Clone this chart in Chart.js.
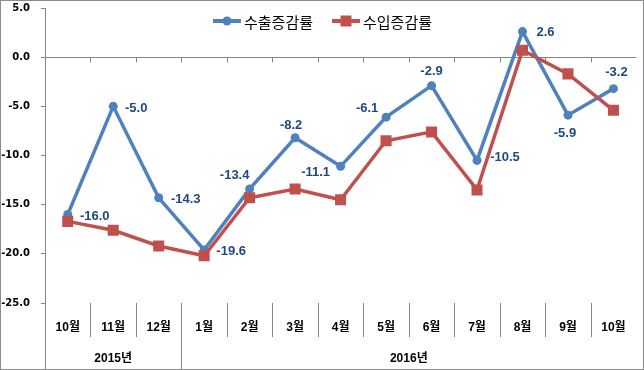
<!DOCTYPE html>
<html>
<head>
<meta charset="utf-8">
<script src="https://cdn.jsdelivr.net/npm/chart.js@4.4.1/dist/chart.umd.min.js"></script>
<style>
  html, body { margin: 0; padding: 0; background: #fff; }
  #wrap { width: 644px; height: 370px; }
</style>
</head>
<body>
<div id="wrap"><canvas id="chart" width="644" height="370"></canvas></div>
<script>
// data
const months = ["10월", "11월", "12월", "1월", "2월", "3월", "4월", "5월", "6월", "7월", "8월", "9월", "10월"];
const years = ["2015년", "2016년"];
const monthsPerYear = [3, 10];
const exportRate = [-16.0, -5.0, -14.3, -19.6, -13.4, -8.2, -11.1, -6.1, -2.9, -10.5, 2.6, -5.9, -3.2];
const importRate = [-16.7, -17.6, -19.2, -20.2, -14.3, -13.4, -14.5, -8.5, -7.6, -13.5, 0.7, -1.7, -5.4];
const yTicks = [5, 0, -5, -10, -15, -20, -25];

// label offsets from each export point (styling only)
const labelOffset = [[27, 2], [23, 2], [27, 2], [27, 2], [-15, -14], [-4, -12], [-25, 6],
                     [-19, -9], [0, -14], [28, -3], [23, 1], [-3, 18], [3, -16]];

const BLUE = "#4F81BD";
const RED = "#C0504D";
const AXIS = "#868686";
const TICK_FONT = "bold 12px 'Liberation Sans', 'Noto Sans CJK KR', sans-serif";

const decorations = {
    id: "decorations",
    beforeDatasetsDraw(chart) {
        const ctx = chart.ctx;
        const x = chart.scales.x;
        const y = chart.scales.y;
        const area = chart.chartArea;
        const half = (x.getPixelForValue(1) - x.getPixelForValue(0)) / 2;
        const y0 = Math.round(y.getPixelForValue(0)) + 0.5;
        ctx.save();
        ctx.strokeStyle = AXIS;
        ctx.lineWidth = 1;
        ctx.beginPath();
        // y axis down to the bottom edge
        ctx.moveTo(Math.round(area.left) + 0.5, area.bottom);
        ctx.lineTo(Math.round(area.left) + 0.5, chart.height);
        // tick marks on zero line + category separators
        let yearEnds = [];
        let acc = 0;
        monthsPerYear.forEach(n => { acc += n; yearEnds.push(acc); });
        for (let i = 1; i < months.length; i++) {
            const bx = Math.round(x.getPixelForValue(i) - half) + 0.5;
            ctx.moveTo(bx, y0);
            ctx.lineTo(bx, y0 + 5);
            ctx.moveTo(bx, area.bottom);
            ctx.lineTo(bx, yearEnds.includes(i) ? chart.height : area.bottom + 34);
        }
        ctx.stroke();

        // year labels
        ctx.fillStyle = "#000";
        ctx.font = TICK_FONT;
        ctx.textAlign = "center";
        ctx.textBaseline = "middle";
        let start = 0;
        years.forEach((label, k) => {
            const end = start + monthsPerYear[k] - 1;
            const cx = (x.getPixelForValue(start) + x.getPixelForValue(end)) / 2;
            ctx.fillText(label, cx, area.bottom + 56);
            start = end + 1;
        });
        ctx.restore();
    },
    afterDatasetsDraw(chart) {
        const ctx = chart.ctx;
        ctx.save();
        // data labels for export series
        const pts = chart.getDatasetMeta(0).data;
        ctx.font = "bold 13px 'Liberation Sans', sans-serif";
        ctx.fillStyle = "#1F497D";
        ctx.textAlign = "center";
        ctx.textBaseline = "middle";
        pts.forEach((p, i) => {
            ctx.fillText(exportRate[i].toFixed(1), p.x + labelOffset[i][0], p.y + labelOffset[i][1]);
        });

        // legend
        const legendX = [213, 332];
        const ly = 21;
        ctx.font = "15px 'Noto Sans CJK KR', sans-serif";
        ctx.textAlign = "left";
        chart.data.datasets.forEach((ds, i) => {
            const lx = legendX[i];
            ctx.strokeStyle = ds.borderColor;
            ctx.lineWidth = 4;
            ctx.beginPath();
            ctx.moveTo(lx, ly);
            ctx.lineTo(lx + 28, ly);
            ctx.stroke();
            ctx.fillStyle = ds.borderColor;
            if (ds.pointStyle === "rect") {
                ctx.fillRect(lx + 14 - 5.5, ly - 5.5, 11, 11);
            } else {
                ctx.beginPath();
                ctx.arc(lx + 14, ly, 4.5, 0, Math.PI * 2);
                ctx.fill();
            }
            ctx.fillStyle = "#000";
            ctx.fillText(ds.label, lx + 31, ly + 1);
        });

        // outer frame
        ctx.strokeStyle = "#8C8C8C";
        ctx.lineWidth = 1;
        ctx.strokeRect(0.5, 0.5, chart.width - 1, chart.height - 1);
        ctx.restore();
    }
};

new Chart(document.getElementById("chart"), {
    type: "line",
    data: {
        labels: months,
        datasets: [{
            label: "수출증감률",
            data: exportRate,
            borderColor: BLUE,
            backgroundColor: BLUE,
            borderWidth: 3.5,
            pointStyle: "circle",
            pointRadius: 4.5,
            pointBorderWidth: 0,
            tension: 0,
            order: 2
        }, {
            label: "수입증감률",
            data: importRate,
            borderColor: RED,
            backgroundColor: RED,
            borderWidth: 3.5,
            pointStyle: "rect",
            pointRadius: 7.8,
            pointBorderWidth: 0,
            tension: 0,
            order: 1
        }]
    },
    options: {
        responsive: false,
        animation: false,
        devicePixelRatio: 1,
        layout: { padding: { top: 8, right: 1, bottom: 0, left: 0 } },
        plugins: {
            legend: { display: false },
            tooltip: { enabled: false }
        },
        scales: {
            x: {
                type: "category",
                offset: true,
                grid: { display: false },
                border: { display: false },
                ticks: {
                    font: { family: "'Liberation Sans', 'Noto Sans CJK KR', sans-serif", size: 12, weight: "bold" },
                    color: "#000",
                    padding: 9,
                    maxRotation: 0,
                    autoSkip: false
                },
                afterFit(scale) {
                    scale.height = 67;
                    scale.paddingLeft = 0;
                    scale.paddingRight = 0;
                }
            },
            y: {
                min: -25,
                max: 5,
                afterBuildTicks(scale) { scale.ticks = yTicks.map(v => ({ value: v })); },
                grid: {
                    color: c => (c.tick && c.tick.value === 0 ? AXIS : "rgba(0,0,0,0)"),
                    tickColor: AXIS,
                    tickLength: 4,
                    lineWidth: 1
                },
                border: { display: true, color: AXIS, width: 1 },
                ticks: {
                    font: { family: "'DejaVu Sans', sans-serif", size: 10, weight: "bold" },
                    color: "#000",
                    padding: 11,
                    callback: v => Number(v).toFixed(1)
                },
                afterFit(scale) {
                    scale.width = 45;
                    scale.paddingTop = 0;
                    scale.paddingBottom = 0;
                }
            }
        }
    },
    plugins: [decorations]
});
</script>
</body>
</html>
